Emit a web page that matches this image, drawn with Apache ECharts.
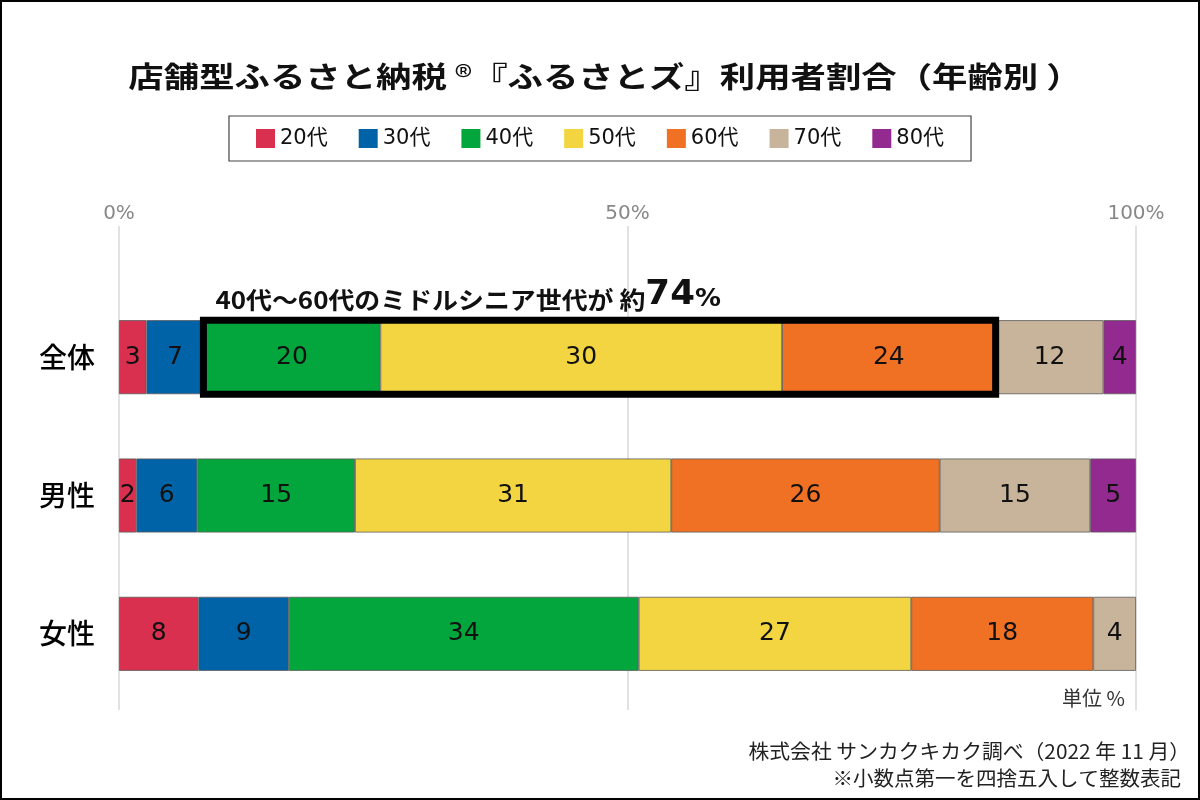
<!DOCTYPE html>
<html>
<head>
<meta charset="utf-8">
<script src="https://cdn.jsdelivr.net/npm/echarts@6/dist/echarts.min.js"></script>
<style>
  html, body { margin: 0; padding: 0; background: #fff; }
  #chart { width: 1200px; height: 800px; }
</style>
</head>
<body>
<div id="chart"></div>
<script>
// ---- data ----
const categories = ['全体', '男性', '女性'];
const ageGroups = ['20代', '30代', '40代', '50代', '60代', '70代', '80代'];
const colors = ['#D9304F', '#0063A7', '#03A63C', '#F2D541', '#F07123', '#C8B39B', '#932A8F'];

// bar lengths as drawn (% of total)
const s20 = [2.7, 1.7, 7.8];
const s30 = [5.6, 6.0, 8.9];
const s40 = [17.4, 15.5, 34.4];
const s50 = [39.5, 31.1, 26.8];
const s60 = [21.0, 26.4, 17.9];
const s70 = [10.6, 14.8, 4.2];
const s80 = [3.2, 4.5, null];

// printed labels
const l20 = [3, 2, 8];
const l30 = [7, 6, 9];
const l40 = [20, 15, 34];
const l50 = [30, 31, 27];
const l60 = [24, 26, 18];
const l70 = [12, 15, 4];
const l80 = [4, 5, null];

const xTicks = [0, 50, 100];
const titleMain = '店舗型ふるさと納税 ';
const titleMark = '®';
const titleRest = '『ふるさとズ』利用者割合（年齢別 ）';
const noteLead = '40代〜60代のミドルシニア世代が 約';
const noteNum = '74';
const noteUnit = '%';
const unitText = '単位 %';
const sourceText = '株式会社 サンカクキカク調べ（2022 年 11 月）';
const footText = '※小数点第一を四捨五入して整数表記';

const seriesValues = [s20, s30, s40, s50, s60, s70, s80];
const seriesLabels = [l20, l30, l40, l50, l60, l70, l80];

const LATIN = '"DejaVu Sans", "Noto Sans CJK JP", sans-serif';
const CJK = '"Noto Sans CJK JP", "DejaVu Sans", sans-serif';
const BAR_H = 74;

const boxStart = s20[0] + s30[0];
const boxEnd = boxStart + s40[0] + s50[0] + s60[0];

const chart = echarts.init(document.getElementById('chart'), null, { renderer: 'canvas' });

const barSeries = ageGroups.map((name, i) => ({
  name: name,
  type: 'bar',
  stack: 'total',
  xAxisIndex: 0,
  yAxisIndex: 0,
  barWidth: BAR_H,
  data: seriesValues[i].map(v => v == null ? '-' : v),
  itemStyle: { color: colors[i], borderColor: '#5a5a5a', borderWidth: 0.8 },
  label: {
    show: true,
    position: 'inside',
    color: '#111',
    fontFamily: LATIN,
    fontSize: 25,
    formatter: p => {
      const t = seriesLabels[i][p.dataIndex];
      return t == null ? '' : String(t);
    }
  },
  emphasis: { disabled: true },
  z: 2
}));

const option = {
  backgroundColor: '#fff',
  animation: false,
  color: colors,
  legend: {
    data: ageGroups,
    top: 116,
    left: 'center',
    icon: 'rect',
    itemWidth: 19,
    itemHeight: 19,
    itemGap: 31,
    padding: [12, 27, 12, 27],
    borderColor: '#444',
    borderWidth: 1.2,
    itemStyle: { borderWidth: 0 },
    textStyle: { fontFamily: LATIN, fontSize: 21, color: '#111' },
    selectedMode: false
  },
  grid: [
    { left: 119, right: 64, top: 288, bottom: 97 },
    { left: 119, right: 64, top: 226, bottom: 90 }
  ],
  xAxis: [
    { type: 'value', gridIndex: 0, min: 0, max: 100, show: false },
    {
      type: 'value', gridIndex: 1, min: 0, max: 100, interval: 50, position: 'top',
      axisLine: { show: false }, axisTick: { show: false },
      splitLine: { show: true, lineStyle: { color: '#d9d9d9', width: 1.5 } },
      axisLabel: {
        formatter: v => (xTicks.indexOf(v) >= 0 ? v + '%' : ''),
        color: '#888', fontFamily: LATIN, fontSize: 20, margin: 2
      }
    }
  ],
  yAxis: [
    {
      type: 'category', gridIndex: 0, data: categories, inverse: true,
      axisLine: { show: false }, axisTick: { show: false },
      axisLabel: { color: '#000', fontFamily: CJK, fontSize: 28, fontWeight: 500, margin: 24 }
    },
    { type: 'value', gridIndex: 1, show: false, min: 0, max: 1 }
  ],
  series: barSeries.concat([{
    type: 'custom',
    name: 'highlight',
    xAxisIndex: 0,
    yAxisIndex: 0,
    z: 5,
    silent: true,
    encode: { x: [0, 1], y: 2 },
    data: [[boxStart, boxEnd, 0]],
    renderItem: function (params, api) {
      const a = api.coord([api.value(0), api.value(2)]);
      const b = api.coord([api.value(1), api.value(2)]);
      const top = a[1] - BAR_H / 2;
      return {
        type: 'group',
        children: [
          {
            type: 'rect',
            shape: { x: a[0], y: top, width: b[0] - a[0], height: BAR_H },
            style: { fill: 'none', stroke: '#000', lineWidth: 7 }
          },
          {
            type: 'text',
            x: a[0] + 12,
            y: top - 8,
            scaleX: 1.08,
            style: {
              text: '{a|' + noteLead + '}{b|' + noteNum + '}{c|' + noteUnit + '}',
              align: 'left',
              verticalAlign: 'bottom',
              rich: {
                a: { fontFamily: CJK, fontSize: 24, fontWeight: 'bold', fill: '#111', lineHeight: 40, verticalAlign: 'bottom' },
                b: { fontFamily: LATIN, fontSize: 33, fontWeight: 'bold', fill: '#111', lineHeight: 40, verticalAlign: 'bottom' },
                c: { fontFamily: LATIN, fontSize: 24, fontWeight: 'bold', fill: '#111', lineHeight: 40, verticalAlign: 'bottom' }
              }
            }
          }
        ]
      };
    }
  }]),
  graphic: [
    {
      type: 'rect', silent: true, z: 100,
      shape: { x: 1, y: 1, width: 1198, height: 798 },
      style: { fill: 'none', stroke: '#000', lineWidth: 2 }
    },
    {
      type: 'text', x: 605, y: 77, scaleX: 1.22, silent: true,
      style: {
        text: '{a|' + titleMain + '}{r|' + titleMark + '}{a|' + titleRest + '}',
        align: 'center', verticalAlign: 'middle',
        rich: {
          a: { fontFamily: CJK, fontSize: 29, fontWeight: 'bold', fill: '#111', lineHeight: 36, verticalAlign: 'middle' },
          r: { fontFamily: CJK, fontSize: 30, fontWeight: 'normal', fill: '#111', lineHeight: 36, verticalAlign: 'middle' }
        }
      }
    },
    {
      type: 'text', x: 1125, y: 698, silent: true,
      style: { text: unitText, align: 'right', verticalAlign: 'middle', fontFamily: CJK, fontSize: 20, fill: '#333' }
    },
    {
      type: 'text', x: 1190, y: 751, scaleX: 1.04, silent: true,
      style: { text: sourceText, align: 'right', verticalAlign: 'middle', fontFamily: CJK, fontSize: 20, fill: '#222' }
    },
    {
      type: 'text', x: 1181, y: 778, scaleX: 1.025, silent: true,
      style: { text: footText, align: 'right', verticalAlign: 'middle', fontFamily: CJK, fontSize: 20, fill: '#222' }
    }
  ]
};

chart.setOption(option);
</script>
</body>
</html>
